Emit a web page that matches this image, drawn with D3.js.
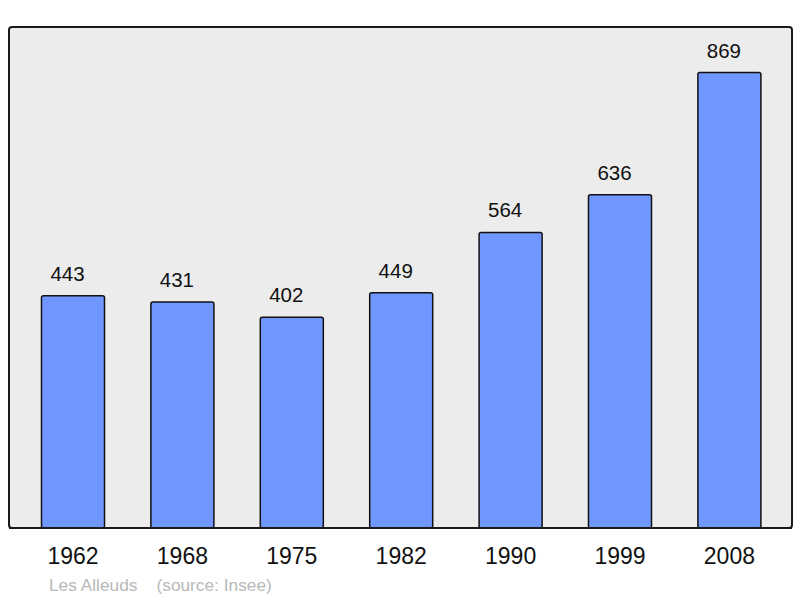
<!DOCTYPE html>
<html><head><meta charset="utf-8">
<script src="https://cdn.jsdelivr.net/npm/d3@7"></script>
<style>body{margin:0;background:#fff;}svg{display:block;font-family:"Liberation Sans",Arial,sans-serif;}</style>
</head><body>
<svg id="c" width="800" height="598"></svg>
<script>
const years = ["1962","1968","1975","1982","1990","1999","2008"];
const population = [443,431,402,449,564,636,869];
const place = "Les Alleuds";
const source = "(source: Insee)";

const svg = d3.select("#c");
const frame = {x0:9, y0:27, x1:792, y1:528};

svg.append("rect").attr("x",frame.x0).attr("y",frame.y0)
  .attr("width",frame.x1-frame.x0).attr("height",frame.y1-frame.y0)
  .attr("rx",3).attr("fill","#ececec").attr("stroke","#1a1a1a").attr("stroke-width",2);

const x = d3.scaleBand().domain(years).range([18.3,784.1]).paddingInner(0.424).paddingOuter(0.212);
const y = d3.scaleLinear().domain([0, d3.max(population)*1.1]).range([frame.y1, frame.y0]);

const g = svg.append("g");
g.selectAll("rect.bar").data(years).join("rect").attr("class","bar")
  .attr("x",d=>x(d)).attr("width",x.bandwidth())
  .attr("y",(d,i)=>y(population[i])).attr("height",(d,i)=>frame.y1-y(population[i]))
  .attr("rx",2).attr("fill","#7097ff").attr("stroke","#111").attr("stroke-width",1.5);

g.selectAll("text.val").data(years).join("text").attr("class","val")
  .attr("x",d=>x(d)+x.bandwidth()/2-5.5).attr("y",(d,i)=>y(population[i])-15)
  .attr("text-anchor","middle").attr("font-size",20.5).attr("fill","#111")
  .text((d,i)=>population[i]);

svg.append("line").attr("x1",frame.x0).attr("x2",frame.x1).attr("y1",frame.y1).attr("y2",frame.y1)
  .attr("stroke","#1a1a1a").attr("stroke-width",2);

const xAxis = d3.axisBottom(x).tickSize(0).tickPadding(0);
const ax = svg.append("g").attr("transform",`translate(0,${frame.y1})`).call(xAxis);
ax.select(".domain").remove();
ax.selectAll("text").attr("dy",null).attr("y",36).attr("font-size",23)
  .attr("font-family","Liberation Sans, Arial, sans-serif").attr("fill","#111");

svg.append("text").attr("x",49).attr("y",591).attr("font-size",17.3).attr("fill","#b8b8b8").text(place);
svg.append("text").attr("x",156.5).attr("y",591).attr("font-size",17.3).attr("fill","#b8b8b8").text(source);
</script>
</body></html>
